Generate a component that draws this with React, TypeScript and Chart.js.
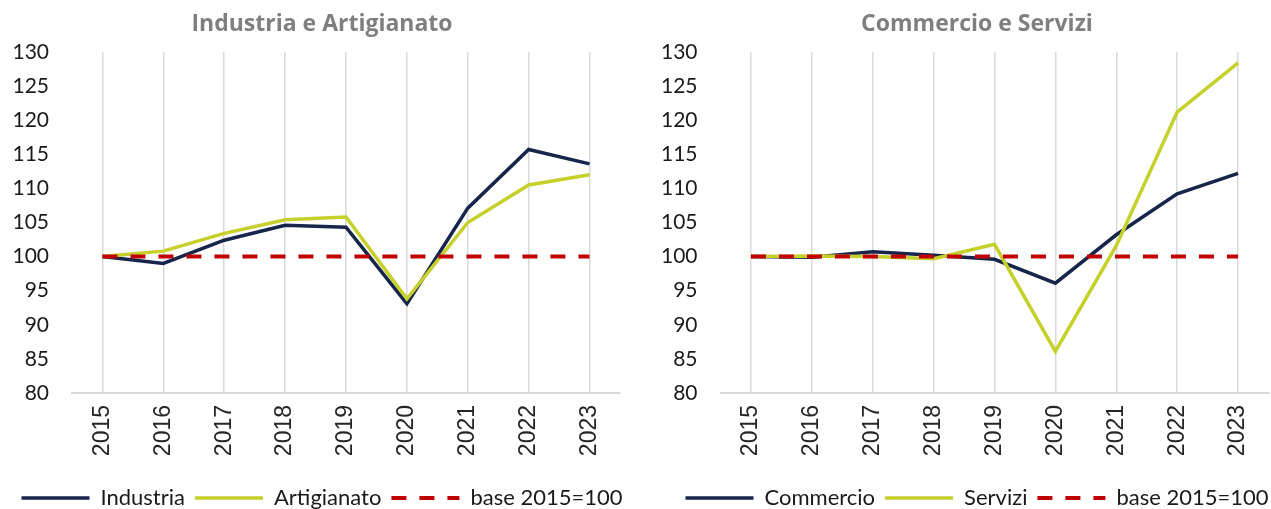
import React, { useEffect, useRef } from "react";
import { Chart, registerables } from "chart.js";

Chart.register(...registerables);

const years = ["2015", "2016", "2017", "2018", "2019", "2020", "2021", "2022", "2023"];
const industria = [100, 99.0, 102.4, 104.6, 104.3, 93.1, 107.1, 115.7, 113.6];
const artigianato = [100, 100.8, 103.4, 105.4, 105.8, 93.8, 105.0, 110.5, 112.0];
const commercio = [100, 99.9, 100.7, 100.2, 99.6, 96.1, 103.2, 109.2, 112.2];
const servizi = [100, 100.1, 100.0, 99.7, 101.8, 86.1, 101.6, 121.2, 128.4];
const base = [100, 100, 100, 100, 100, 100, 100, 100, 100];

const Y_MIN = 80;
const Y_MAX = 130;
const Y_STEP = 5;

const NAVY = "#17254a";
const GREEN = "#c6d02b";
const RED = "#c00000";

type PanelProps = {
  title: string;
  nameA: string;
  dataA: number[];
  nameB: string;
  dataB: number[];
  yWidth: number;
  rightWidth: number;
};

function Panel(p: PanelProps) {
  const ref = useRef<HTMLCanvasElement | null>(null);
  useEffect(() => {
    if (!ref.current) return;
    const chart = new Chart(ref.current, {
      type: "line",
      data: {
        labels: years,
        datasets: [
          {
            label: p.nameA,
            data: p.dataA,
            borderColor: NAVY,
            backgroundColor: NAVY,
            borderWidth: 3.5,
            pointRadius: 0,
            tension: 0,
            order: 3,
          },
          {
            label: p.nameB,
            data: p.dataB,
            borderColor: GREEN,
            backgroundColor: GREEN,
            borderWidth: 3.5,
            pointRadius: 0,
            tension: 0,
            order: 2,
          },
          {
            label: "base 2015=100",
            data: base,
            borderColor: RED,
            backgroundColor: RED,
            borderWidth: 4,
            borderDash: [15, 13],
            pointRadius: 0,
            tension: 0,
            order: 1,
          },
        ],
      },
      options: {
        animation: false,
        responsive: true,
        maintainAspectRatio: false,
        layout: { padding: { left: 0, right: 0, top: 0, bottom: -10 } },
        plugins: {
          tooltip: { enabled: false },
          title: {
            display: true,
            text: p.title,
            color: "#7f7f7f",
            font: { family: "Open Sans", size: 23, weight: "bold", lineHeight: 1.2 },
            padding: { top: 11, bottom: 13.4 },
          },
          legend: {
            position: "bottom",
            labels: {
              usePointStyle: true,
              pointStyle: "line",
              pointStyleWidth: 68,
              boxHeight: 4,
              padding: 10,
              color: "#1a1a1a",
              font: { family: "Lato", size: 22 },
              sort: (a: any, b: any) => a.datasetIndex - b.datasetIndex,
              generateLabels: (c: any) => {
                const items = Chart.defaults.plugins.legend.labels.generateLabels(c);
                return items.map((it: any) => {
                  const ds: any = c.data.datasets[it.datasetIndex];
                  return {
                    ...it,
                    lineDash: ds.borderDash || [],
                    lineWidth: ds.borderWidth,
                    strokeStyle: ds.borderColor,
                    lineCap: "butt",
                  };
                });
              },
            },
          },
        },
        scales: {
          x: {
            type: "category",
            offset: true,
            grid: {
              display: true,
              offset: false,
              color: "#d9d9d9",
              lineWidth: 1.5,
              drawTicks: false,
              tickLength: 0,
            },
            border: { display: true, color: "#d9d9d9", width: 2 },
            ticks: {
              color: "#262626",
              font: { family: "Liberation Sans", size: 23 },
              minRotation: 90,
              maxRotation: 90,
              padding: 12,
            },
            afterFit: (s: any) => {
              s.height = 84;
            },
          },
          y: {
            type: "linear",
            position: "left",
            min: Y_MIN,
            max: Y_MAX,
            grid: { display: false, drawTicks: false },
            border: { display: false },
            ticks: {
              stepSize: Y_STEP,
              color: "#1a1a1a",
              font: { family: "Lato", size: 21 },
              padding: 23,
            },
            afterFit: (s: any) => {
              s.width = p.yWidth;
            },
          },
          yRight: {
            type: "linear",
            position: "right",
            display: true,
            grid: { display: false, drawTicks: false },
            border: { display: false },
            ticks: { display: false },
            afterFit: (s: any) => {
              s.width = p.rightWidth;
            },
          },
        },
      },
    });
    return () => chart.destroy();
  }, []);
  return <canvas ref={ref} />;
}

export default function App() {
  return (
    <div
      style={{
        position: "fixed",
        left: 0,
        top: 0,
        width: 1271,
        height: 509,
        background: "#fff",
        overflow: "hidden",
      }}
    >
      <div style={{ position: "absolute", left: 0, top: 0, width: 644, height: 509 }}>
        <Panel
          title="Industria e Artigianato"
          nameA="Industria"
          dataA={industria}
          nameB="Artigianato"
          dataB={artigianato}
          yWidth={72}
          rightWidth={24}
        />
      </div>
      <div style={{ position: "absolute", left: 655, top: 0, width: 644, height: 509 }}>
        <Panel
          title="Commercio e Servizi"
          nameA="Commercio"
          dataA={commercio}
          nameB="Servizi"
          dataB={servizi}
          yWidth={65.5}
          rightWidth={30.5}
        />
      </div>
    </div>
  );
}
